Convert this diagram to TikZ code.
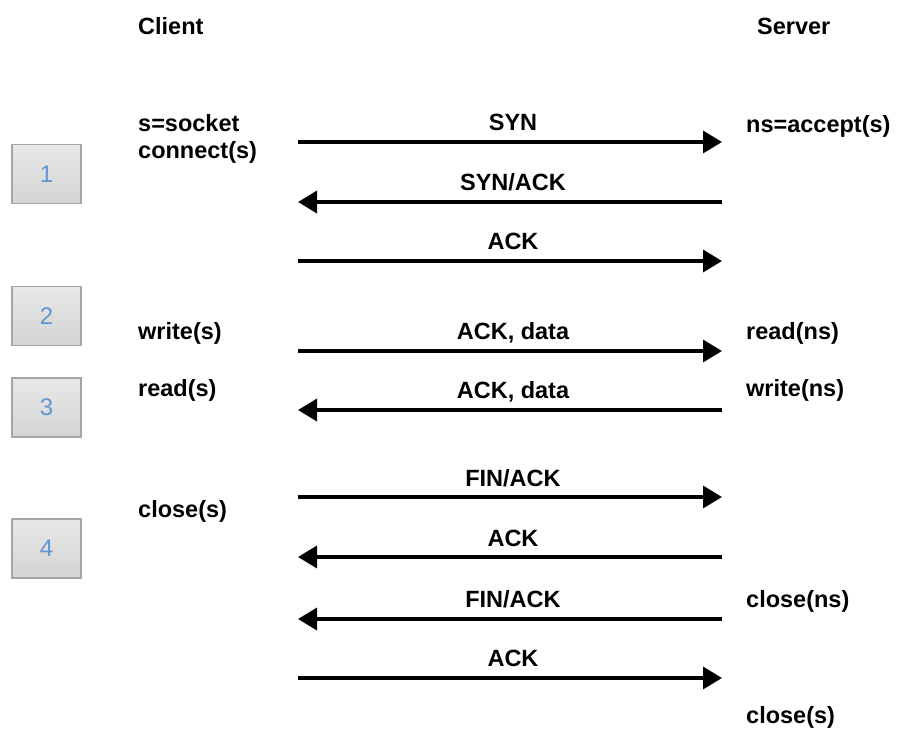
\documentclass[tikz,border=0pt]{standalone}
\usepackage{fontspec}
\setmainfont{Liberation Sans}
\usetikzlibrary{arrows.meta}
\definecolor{numblue}{RGB}{95,150,210}
\definecolor{boxedge}{RGB}{165,165,165}
\tikzset{
  lbl/.style={font=\fontsize{23.5}{28}\selectfont\bfseries, inner sep=0pt, anchor=base west},
  msg/.style={font=\fontsize{23.5}{28}\selectfont\bfseries, inner sep=0pt, anchor=base},
  stepbox/.style={draw=boxedge, line width=1.2pt, top color=black!9, bottom color=black!17,
    minimum width=69pt, minimum height=59pt, inner sep=0pt, text=numblue,
    font=\fontsize{24}{28}\selectfont},
  msgarrow/.style={line width=3.5pt, -{Triangle[length=19pt,width=22pt]}}
}
\begin{document}
\begin{tikzpicture}[x=1pt,y=-1pt]
\useasboundingbox (0,0) rectangle (903,731);
% headers
\node[lbl] (client) at (138,34) {Client};
\node[lbl] (server) at (757,34) {Server};
% step boxes
\node[stepbox] (b1) at (46.5,174) {1};
\node[stepbox] (b2) at (46.5,316) {2};
\node[stepbox] (b3) at (46.5,407.5) {3};
\node[stepbox] (b4) at (46.5,548.5) {4};
% client labels
\node[lbl] (c1) at (138,131) {s=socket};
\node[lbl] (c2) at (138,158) {connect(s)};
\node[lbl] (c3) at (138,339) {write(s)};
\node[lbl] (c4) at (138,396) {read(s)};
\node[lbl] (c5) at (138,517) {close(s)};
% server labels
\node[lbl] (s1) at (746,132) {ns=accept(s)};
\node[lbl] (s2) at (746,339) {read(ns)};
\node[lbl] (s3) at (746,396) {write(ns)};
\node[lbl] (s4) at (746,607) {close(ns)};
\node[lbl] (s5) at (746,723) {close(s)};
% arrow endpoints
\foreach \i/\y in {1/142,2/202,3/261,4/351,5/410,6/497,7/557,8/619,9/678}{
  \coordinate (L\i) at (298,\y);
  \coordinate (R\i) at (722,\y);
}
% messages
\draw[msgarrow] (L1) -- (R1);
\draw[msgarrow] (R2) -- (L2);
\draw[msgarrow] (L3) -- (R3);
\draw[msgarrow] (L4) -- (R4);
\draw[msgarrow] (R5) -- (L5);
\draw[msgarrow] (L6) -- (R6);
\draw[msgarrow] (R7) -- (L7);
\draw[msgarrow] (R8) -- (L8);
\draw[msgarrow] (L9) -- (R9);
\node[msg] (m1) at (513,130) {SYN};
\node[msg] (m2) at (513,190) {SYN/ACK};
\node[msg] (m3) at (513,249) {ACK};
\node[msg] (m4) at (513,339) {ACK, data};
\node[msg] (m5) at (513,398) {ACK, data};
\node[msg] (m6) at (513,486) {FIN/ACK};
\node[msg] (m7) at (513,546) {ACK};
\node[msg] (m8) at (513,607) {FIN/ACK};
\node[msg] (m9) at (513,666) {ACK};
\end{tikzpicture}
\end{document}
